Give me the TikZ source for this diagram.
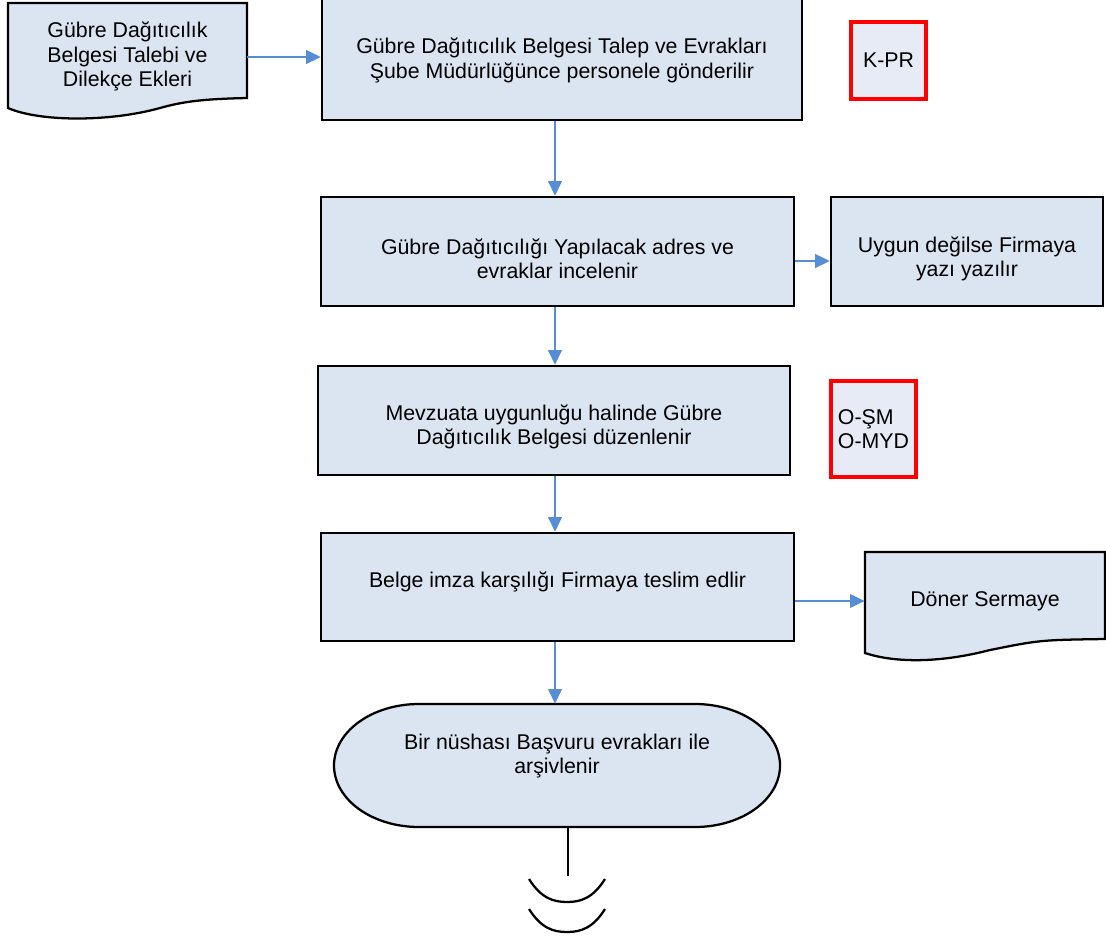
\documentclass[tikz,border=0pt]{standalone}
\usepackage{fontspec}
\setmainfont{Liberation Sans}
\usetikzlibrary{arrows.meta}
\definecolor{boxfill}{RGB}{219,229,241}
\definecolor{reffill}{RGB}{231,235,246}
\definecolor{arrowblue}{RGB}{85,142,213}
\definecolor{redline}{RGB}{255,0,0}
\begin{document}
\begin{tikzpicture}[x=0.75pt,y=-0.75pt,
  every node/.style={font=\fontsize{16}{18.2}\selectfont, align=center, inner sep=0pt},
  procbox/.style={draw=black, line width=1.7pt, fill=boxfill},
  refbox/.style={draw=redline, line width=2.6pt, fill=reffill},
  flow/.style={draw=arrowblue, line width=2pt, -{Triangle[length=11pt,width=10pt]}},
  outline/.style={draw=black, line width=1.7pt, fill=boxfill},
  plain/.style={draw=black, line width=1.7pt}]
\useasboundingbox (0,0) rectangle (1106,939);

% document shape: top left
\path[outline] (8,3) -- (247,3) -- (247,98)
  .. controls (205,99) and (185,101) .. (160,108)
  .. controls (110,122) and (40,122) .. (8,108) -- cycle;
\node[minimum width=179.25pt, minimum height=78.75pt] (doc1) at (127.5,56.5)
  {Gübre Dağıtıcılık\\Belgesi Talebi ve\\Dilekçe Ekleri};

% process boxes
\node[procbox, minimum width=360pt, minimum height=94.5pt] (box1) at (562,57) {};
\node (box1text) at (562,60.5)
  {Gübre Dağıtıcılık Belgesi Talep ve Evrakları\\Şube Müdürlüğünce personele gönderilir};
\node[refbox, minimum width=56.25pt, minimum height=57.75pt] (kpr) at (888.5,60.5) {K-PR};

\node[procbox, minimum width=354.75pt, minimum height=81.75pt] (box2) at (557.5,251.5) {};
\node (box2text) at (557.5,259) {Gübre Dağıtıcılığı Yapılacak adres ve\\evraklar incelenir};
\node[procbox, minimum width=204pt, minimum height=81.75pt] (uygun) at (967,251.5) {};
\node (uyguntext) at (967,259) {Uygun değilse Firmaya\\yazı yazılır};

\node[procbox, minimum width=354pt, minimum height=81.75pt] (box3) at (554,420.5) {};
\node (box3text) at (554,427) {Mevzuata uygunluğu halinde Gübre\\Dağıtıcılık Belgesi düzenlenir};
\node[refbox, minimum width=63.75pt, minimum height=72pt, align=left] (osm) at (873.5,429) {O-ŞM\\O-MYD};

\node[procbox, minimum width=354.75pt, minimum height=81pt] (box4) at (557.5,587) {};
\node (box4text) at (557.5,582) {Belge imza karşılığı Firmaya teslim edlir};

% document shape: Döner Sermaye
\path[outline] (865,552) -- (1105,552) -- (1105,639)
  .. controls (1040,640) .. (990,650)
  .. controls (940,663) and (895,663) .. (865,653) -- cycle;
\node[minimum width=180pt, minimum height=72pt] (doner) at (985,601) {Döner Sermaye};

% terminal
\path[outline] (695,704) .. controls (742,704) and (780,731.5) .. (780,765.5)
  .. controls (780,799.5) and (742,827) .. (695,827) -- (419,827)
  .. controls (372,827) and (334,799.5) .. (334,765.5)
  .. controls (334,731.5) and (372,704) .. (419,704) -- cycle;
\node[minimum width=334.5pt, minimum height=92.25pt] (term) at (557,765.5) {};
\node (termtext) at (557,756) {Bir nüshası Başvuru evrakları ile\\arşivlenir};

% helper coordinates
\coordinate (ax) at (555,0);
\coordinate (cx) at (568,0);
\coordinate (ay1) at (0,57);
\coordinate (ay2) at (0,261);
\coordinate (ay4) at (0,601);
\coordinate (endc) at (568,876);

% connectors
\draw[flow] (doc1.east |- ay1) -- (box1.west |- ay1);
\draw[flow] (box1.south -| ax) -- (box2.north -| ax);
\draw[flow] (box2.east |- ay2) -- (uygun.west |- ay2);
\draw[flow] (box2.south -| ax) -- (box3.north -| ax);
\draw[flow] (box3.south -| ax) -- (box4.north -| ax);
\draw[flow] (box4.east |- ay4) -- (doner.west |- ay4);
\draw[flow] (box4.south -| ax) -- (term.north -| ax);
\draw[plain] (term.south -| cx) -- (endc);

% off-page break marks
\draw[plain] (529,879) .. controls (541,898) and (553,902) .. (567,902)
  .. controls (581,902) and (593,898) .. (605,879);
\draw[plain] (529,909) .. controls (541,928) and (553,932) .. (567,932)
  .. controls (581,932) and (593,928) .. (605,909);
\end{tikzpicture}
\end{document}
